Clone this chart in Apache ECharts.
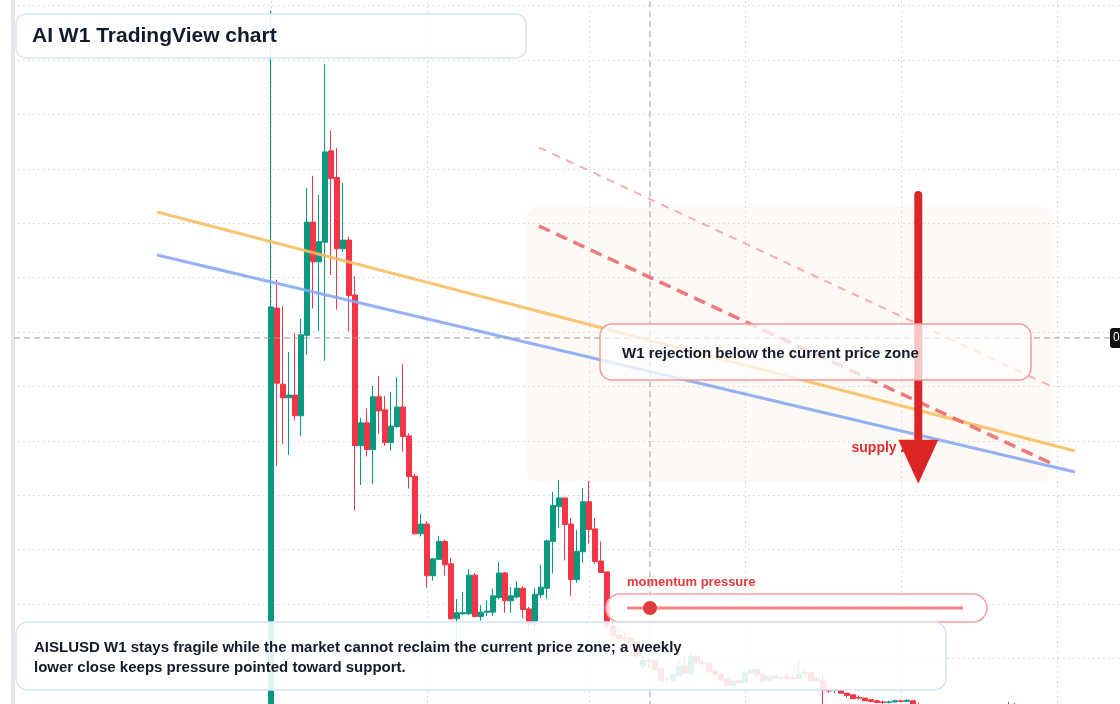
<!DOCTYPE html>
<html><head><meta charset="utf-8">
<script src="https://cdn.jsdelivr.net/npm/echarts@6/dist/echarts.min.js"></script>
<style>html,body{margin:0;padding:0;background:#fff}#c{width:1120px;height:704px}</style>
</head><body><div id="c"></div>
<script>
// ---------- data ----------
const FIRST = 43;          // category index of the first weekly candle
const TOTAL = 188;         // number of weekly slots on the axis
const categories = [];
(function(){ const d = new Date(Date.UTC(2022, 8, 5)); for (let i = 0; i < TOTAL; i++) { categories.push(d.toISOString().slice(0,10)); d.setUTCDate(d.getUTCDate()+7); } })();
const splitIdx = [43, 69, 96, 122, 148, 174];

// weekly AISLUSD candles: [open, close, low, high]
const ohlc = [
[0.060,0.846,0.050,1.390],[0.844,0.706,0.554,0.896],[0.704,0.679,0.594,0.848],[0.679,0.684,0.574,0.763],
[0.684,0.646,0.637,0.798],[0.646,0.795,0.609,0.824],[0.794,1.002,0.758,1.065],[1.002,0.929,0.843,1.087],
[0.929,0.966,0.802,1.052],[0.965,1.131,0.747,1.293],[1.133,1.082,0.905,1.170],[1.084,0.953,0.841,1.138],
[0.953,0.969,0.947,1.074],[0.969,0.867,0.801,0.975],[0.868,0.591,0.472,0.903],[0.591,0.633,0.519,0.642],
[0.633,0.584,0.571,0.659],[0.584,0.681,0.521,0.701],[0.681,0.655,0.613,0.719],[0.657,0.597,0.591,0.682],
[0.597,0.627,0.582,0.690],[0.626,0.662,0.624,0.717],[0.662,0.608,0.580,0.741],[0.609,0.534,0.512,0.614],
[0.535,0.429,0.428,0.539],[0.429,0.447,0.424,0.466],[0.447,0.352,0.330,0.452],[0.352,0.383,0.343,0.385],
[0.382,0.415,0.382,0.425],[0.415,0.372,0.352,0.418],[0.374,0.273,0.271,0.385],[0.273,0.284,0.230,0.309],
[0.282,0.284,0.280,0.322],[0.282,0.353,0.280,0.364],[0.353,0.277,0.277,0.357],[0.277,0.285,0.269,0.298],
[0.285,0.287,0.278,0.307],[0.285,0.315,0.278,0.328],[0.312,0.357,0.309,0.377],[0.357,0.306,0.284,0.359],
[0.306,0.315,0.284,0.331],[0.313,0.329,0.310,0.342],[0.329,0.290,0.274,0.333],[0.291,0.263,0.256,0.295],
[0.263,0.318,0.252,0.329],[0.317,0.331,0.311,0.372],[0.329,0.416,0.309,0.418],[0.415,0.481,0.356,0.506],
[0.479,0.495,0.440,0.528],[0.495,0.446,0.380,0.495],[0.447,0.345,0.315,0.458],[0.345,0.397,0.339,0.436],
[0.396,0.488,0.376,0.513],[0.488,0.437,0.411,0.526],[0.438,0.378,0.374,0.458],[0.379,0.358,0.358,0.415],
[0.359,0.260,0.252,0.359],[0.260,0.242,0.234,0.267],[0.243,0.236,0.228,0.258],[0.238,0.236,0.225,0.249],
[0.237,0.230,0.221,0.240],[0.230,0.204,0.201,0.230],[0.187,0.196,0.181,0.206],[0.194,0.196,0.184,0.201],
[0.195,0.179,0.178,0.199],[0.181,0.159,0.159,0.181],[0.162,0.163,0.154,0.168],[0.160,0.170,0.160,0.171],
[0.168,0.186,0.168,0.196],[0.186,0.173,0.173,0.204],[0.173,0.204,0.173,0.214],[0.204,0.192,0.190,0.204],
[0.193,0.190,0.184,0.204],[0.190,0.175,0.175,0.193],[0.177,0.171,0.168,0.181],[0.171,0.160,0.158,0.175],
[0.162,0.150,0.149,0.164],[0.150,0.158,0.149,0.160],[0.159,0.155,0.154,0.160],[0.155,0.173,0.155,0.177],
[0.173,0.179,0.171,0.181],[0.179,0.171,0.164,0.182],[0.171,0.158,0.158,0.173],[0.160,0.168,0.158,0.169],
[0.168,0.164,0.162,0.169],[0.164,0.165,0.158,0.168],[0.167,0.164,0.158,0.170],[0.165,0.163,0.158,0.171],
[0.163,0.171,0.163,0.198],[0.173,0.174,0.166,0.181],[0.174,0.159,0.157,0.174],[0.163,0.159,0.157,0.166],
[0.160,0.141,0.068,0.170],[0.142,0.140,0.137,0.149],[0.141,0.142,0.136,0.142],[0.142,0.136,0.136,0.146],
[0.136,0.132,0.128,0.137],[0.133,0.126,0.126,0.134],[0.128,0.127,0.124,0.132],[0.127,0.122,0.122,0.127],
[0.124,0.121,0.119,0.125],[0.122,0.119,0.118,0.124],[0.120,0.119,0.116,0.122],[0.119,0.120,0.117,0.122],
[0.120,0.122,0.119,0.124],[0.122,0.121,0.119,0.124],[0.121,0.123,0.120,0.125],[0.122,0.105,0.102,0.123],
[0.109,0.094,0.090,0.118],[0.094,0.088,0.084,0.100],[0.088,0.092,0.082,0.097],[0.092,0.085,0.080,0.095],
[0.085,0.080,0.074,0.090],[0.080,0.083,0.076,0.089],[0.083,0.078,0.073,0.087],[0.078,0.074,0.070,0.082],
[0.074,0.079,0.071,0.085],[0.079,0.082,0.075,0.090],[0.082,0.077,0.073,0.088],[0.077,0.084,0.074,0.092],
[0.084,0.090,0.080,0.099],[0.090,0.087,0.083,0.096],[0.087,0.098,0.085,0.104],[0.098,0.108,0.094,0.120],
[0.108,0.099,0.094,0.118]
];

// annotation geometry in data units: [week slot, price]
const orangeTrend = [[24.0, 1.0206], [177.0, 0.5813]];
const blueTrend   = [[24.0, 0.9415], [177.0, 0.5426]];
const supplyUpper = [[87.65, 1.1395], [173.13, 0.6998]];
const supplyLower = [[87.65, 0.9949], [173.28, 0.5574]];
const supplyZone  = [85.5, 1.0298, 173.33, 0.5243];
const arrowShaft  = [[150.88, 1.0519], [150.88, 0.5923]];
const arrowHead   = [[150.88, 0.5617]];
const supplyLabel = [[139.67, 0.5868]];
const crossPrice  = 0.789;
const crossWeek   = 106.17;
const crossH = [[0.17, crossPrice], [182.83, crossPrice]];
const crossV = [[crossWeek, 0], [crossWeek, 1.5]];

// ---------- chart ----------
const FONT = '"Liberation Sans", Arial, Helvetica, sans-serif';
const DARK = '#131a2b';
const chart = echarts.init(document.getElementById('c'));
const candleData = ohlc.map((d, i) => [FIRST + i, d[0], d[1], d[2], d[3]]);
const gridLine = { color: '#cdd1d6', type: [1.5, 3.5], width: 1 };

const lineS = (data, style, z) => ({ type: 'line', xAxisIndex: 1, yAxisIndex: 0, data, symbol: 'none', silent: true, z, lineStyle: style });

chart.setOption({
  animation: false,
  grid: { left: 13, top: -48.8, width: 1122, height: 816, outerBoundsMode: 'none', containLabel: false },
  xAxis: [
    { type: 'category', data: categories, boundaryGap: false,
      axisLine: { show: false }, axisTick: { show: false }, axisLabel: { show: false },
      splitLine: { show: true, interval: (i) => splitIdx.includes(i), lineStyle: gridLine } },
    { type: 'value', min: 0, max: TOTAL - 1, show: false, splitLine: { show: false } }
  ],
  yAxis: { type: 'value', min: 0, max: 1.5, interval: 0.1,
    axisLine: { show: true, onZero: false, lineStyle: { color: '#e6e6e6', width: 4 } },
    axisTick: { show: false }, axisLabel: { show: false },
    splitLine: { show: true, lineStyle: gridLine } },
  series: [
    { type: 'custom', xAxisIndex: 1, yAxisIndex: 0, z: 1, silent: true, data: [supplyZone],
      encode: { x: [0, 2], y: [1, 3] },
      renderItem: (p, api) => {
        const a = api.coord([api.value(0), api.value(1)]);
        const b = api.coord([api.value(2), api.value(3)]);
        return { type: 'rect', shape: { x: a[0], y: a[1], width: b[0] - a[0], height: b[1] - a[1], r: 12 },
                 style: { fill: 'rgba(250,226,206,0.2)' } };
      } },
    { type: 'candlestick', xAxisIndex: 0, yAxisIndex: 0, z: 2, data: candleData,
      encode: { x: 0, y: [1, 2, 3, 4] }, barWidth: 4.6,
      itemStyle: { color: '#089981', color0: '#f23645', borderColor: '#089981', borderColor0: '#f23645', borderWidth: 1 } },
    lineS(orangeTrend, { color: '#f9bd5e', width: 3, opacity: 0.88 }, 3),
    lineS(blueTrend, { color: '#86a6f5', width: 3, opacity: 0.88 }, 3),
    lineS(supplyUpper, { color: '#f19c9c', width: 2, type: [8, 7], opacity: 0.8 }, 3),
    lineS(supplyLower, { color: '#e86464', width: 3.5, type: [12, 7], opacity: 0.85 }, 3),
    lineS(crossH, { color: '#9a9a9a', width: 1, type: [6, 4] }, 3),
    lineS(crossV, { color: '#9a9a9a', width: 1, type: [6, 4] }, 3),
    { type: 'scatter', xAxisIndex: 1, yAxisIndex: 0, z: 4, silent: true, data: supplyLabel,
      symbolSize: 1, itemStyle: { color: 'rgba(0,0,0,0)' }, emphasis: { disabled: true },
      label: { show: true, position: 'right', distance: 0, formatter: 'supply zone', opacity: 1,
               textBorderWidth: 0, color: '#e02d2d', fontWeight: 'bold', fontSize: 14, fontFamily: FONT } },
    lineS(arrowShaft, { color: '#dc2626', width: 8, cap: 'round' }, 5),
    { type: 'scatter', xAxisIndex: 1, yAxisIndex: 0, z: 5, silent: true, data: arrowHead,
      symbol: 'triangle', symbolSize: [40, 44], symbolRotate: 180, itemStyle: { color: '#dc2626', opacity: 1 } }
  ]
});

const py = chart.convertToPixel({ yAxisIndex: 0 }, crossPrice);
const Z = 100;
chart.setOption({
  graphic: [
    { type: 'rect', z: Z, shape: { x: 16, y: 14, width: 510, height: 44, r: 10 },
      style: { fill: 'rgba(255,255,255,0.9)', stroke: '#d6e3f7', lineWidth: 1.5 } },
    { type: 'text', z: Z, x: 32, y: 36,
      style: { text: 'AI W1 TradingView chart', fill: DARK, font: 'bold 21px ' + FONT, verticalAlign: 'middle' } },

    { type: 'rect', z: Z, shape: { x: 600, y: 324, width: 431, height: 56, r: 12 },
      style: { fill: 'rgba(255,255,255,0.74)', stroke: '#f09c9c', lineWidth: 1.5 } },
    { type: 'text', z: Z, x: 622, y: 354,
      style: { text: 'W1 rejection below the current price zone', fill: DARK, font: 'bold 15px ' + FONT, verticalAlign: 'middle' } },

    { type: 'text', z: Z, x: 627, y: 582.5,
      style: { text: 'momentum pressure', fill: '#e5383b', font: 'bold 13px ' + FONT, verticalAlign: 'middle' } },
    { type: 'rect', z: Z, shape: { x: 606, y: 594, width: 381, height: 28, r: 14 },
      style: { fill: 'rgba(255,255,255,0.8)', stroke: '#f2a2a2', lineWidth: 1.5 } },
    { type: 'line', z: Z, shape: { x1: 627, y1: 608, x2: 963, y2: 608 },
      style: { stroke: '#ef8585', lineWidth: 3 } },
    { type: 'circle', z: Z, shape: { cx: 650, cy: 608, r: 7 }, style: { fill: '#e23b3b' } },

    { type: 'rect', z: Z, shape: { x: 16, y: 622, width: 930, height: 68, r: 12 },
      style: { fill: 'rgba(255,255,255,0.88)', stroke: '#d6e3f7', lineWidth: 1.5 } },
    { type: 'text', z: Z, x: 34, y: 638,
      style: { text: 'AISLUSD W1 stays fragile while the market cannot reclaim the current price zone; a weekly\nlower close keeps pressure pointed toward support.',
               fill: DARK, font: 'bold 15px ' + FONT, lineHeight: 20, verticalAlign: 'top' } },

    { type: 'rect', z: Z, shape: { x: 1110, y: py - 10, width: 60, height: 20, r: 3 }, style: { fill: '#111111' } },
    { type: 'text', z: Z, x: 1113, y: py,
      style: { text: crossPrice.toFixed(4), fill: '#ffffff', font: '12px ' + FONT, verticalAlign: 'middle' } }
  ]
});
</script></body></html>
